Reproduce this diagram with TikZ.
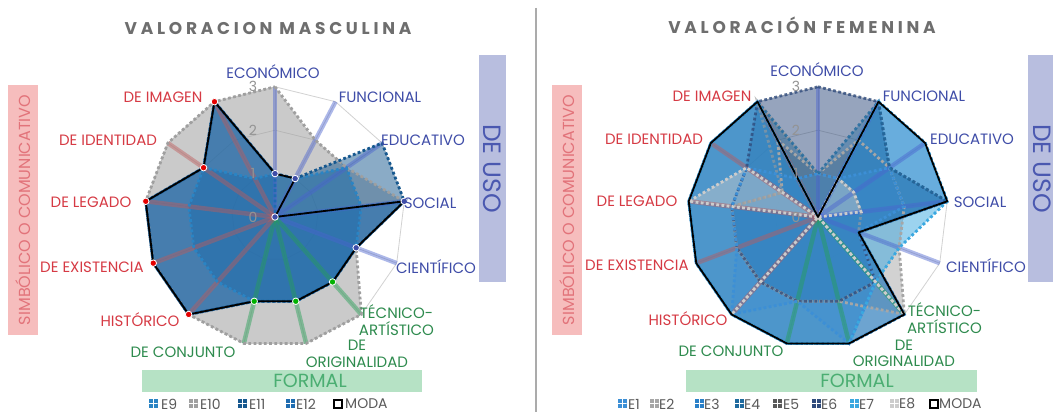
\documentclass[tikz,border=0pt]{standalone}
\usepackage{fontspec}
\setmainfont{Poppins}
\newfontfamily\ttlfont[LetterSpace=22]{Poppins}
\usepackage{tikz}
\usetikzlibrary{calc}

\definecolor{usoblue}{HTML}{3F4DA8}
\definecolor{frmgreen}{HTML}{2E8B4E}
\definecolor{smbred}{HTML}{D63A44}
\definecolor{pinkbox}{HTML}{F6BDBD}
\definecolor{pinktxt}{HTML}{E2737A}
\definecolor{lavbox}{HTML}{B8BEDF}
\definecolor{lavtxt}{HTML}{4A58B0}
\definecolor{grnbox}{HTML}{B6E2C5}
\definecolor{grntxt}{HTML}{4BAE72}
\definecolor{ttlgray}{HTML}{6E6E6E}
\definecolor{leggray}{HTML}{5A5A5A}
\definecolor{divgray}{HTML}{ABABAB}
\definecolor{barblue}{HTML}{4A63D0}
\definecolor{bargreen}{HTML}{25A055}
\definecolor{barred}{HTML}{BF5A5A}
% series colours
\definecolor{cE1}{HTML}{3C8FD6}
\definecolor{cE2}{HTML}{A6A6A6}
\definecolor{cE3}{HTML}{2A80C8}
\definecolor{cE4}{HTML}{1F6A9E}
\definecolor{cE5}{HTML}{595959}
\definecolor{cE6}{HTML}{2F4B7C}
\definecolor{cE7}{HTML}{3AA8E0}
\definecolor{cE8}{HTML}{CCCCCC}
\definecolor{cE9}{HTML}{2A84C4}
\definecolor{cE10}{HTML}{A0A0A0}
\definecolor{cE11}{HTML}{16588F}
\definecolor{cE12}{HTML}{1F6CB0}

% 13 spokes, value 3 = 130pt
\newcommand{\radarpts}[3]{%
  \foreach \v [count=\i] in {#3}
    {\coordinate (#1-\i) at ($(#2)+({90-(\i-1)*360/13}:{\v*43.4})$);}}
\newcommand{\radarshape}[2]{%
  \path[#2] (#1-1) \foreach \i in {2,...,13} {-- (#1-\i)} -- cycle;}

\begin{document}
\begin{tikzpicture}[x=1pt,y=1pt]
\tikzstyle{lbl}=[font=\fontsize{15}{16.5}\selectfont, inner sep=0pt, align=center]
\tikzstyle{uso}=[lbl, text=usoblue]
\tikzstyle{frm}=[lbl, text=frmgreen]
\tikzstyle{smb}=[lbl, text=smbred]
\tikzstyle{ttl}=[font=\ttlfont\bfseries\fontsize{17}{17}\selectfont, text=ttlgray, inner sep=0pt]
\tikzstyle{catbox}=[inner sep=0pt]
\tikzstyle{gridline}=[draw=gray!35, line width=0.8pt]
\tikzstyle{dots}=[line width=2.8pt, dash pattern=on 2.8pt off 2.4pt]
\tikzstyle{axbar}=[line width=4.5pt, opacity=0.45]
\tikzstyle{moda}=[draw=black, line width=1.8pt, line join=round]
\tikzstyle{mk}=[circle, inner sep=0pt, minimum size=6.5pt, draw=white, line width=0.8pt]
\tikzstyle{val}=[font=\fontsize{14}{14}\selectfont, text=gray!85, inner sep=0pt]
\tikzstyle{leg}=[font=\fontsize{14}{14}\selectfont, text=leggray, anchor=west, inner sep=0pt]
\tikzstyle{legicon}=[minimum size=9pt, inner sep=0pt,
  path picture={\draw[white, line width=1pt] (path picture bounding box.north) -- (path picture bounding box.south)
    (path picture bounding box.west) -- (path picture bounding box.east);}]

\fill[white] (0,0) rectangle (1053,412);
\useasboundingbox (0,0) rectangle (1053,412);

\coordinate (cL) at (275,195);
\coordinate (cR) at (818,195);

% titles and divider
\node[ttl] (ttlL) at (268,383) {VALORACION\hspace{7pt}MASCULINA};
\node[ttl] (ttlR) at (802,387) {VALORACIÓN\hspace{7pt}FEMENINA};
\coordinate (divtop) at (536,404);
\coordinate (divbot) at (536,0);
\draw[divgray, line width=2pt] (divtop) -- (divbot);

% category boxes
\node[catbox, fill=pinkbox, text=pinktxt, rotate=90, minimum width=250pt, minimum height=30pt,
  font=\fontsize{16}{16}\selectfont] (simbL) at (23,202) {SIMBÓLICO O COMUNICATIVO};
\node[catbox, fill=pinkbox, text=pinktxt, rotate=90, minimum width=250pt, minimum height=30pt,
  font=\fontsize{16}{16}\selectfont] (simbR) at (567,202) {SIMBÓLICO O COMUNICATIVO};
\node[catbox, fill=lavbox, text=lavtxt, rotate=-90, minimum width=227pt, minimum height=27pt,
  font=\fontsize{25}{25}\selectfont] (usoL) at (492.5,243.5) {DE USO};
\node[catbox, fill=lavbox, text=lavtxt, rotate=-90, minimum width=227pt, minimum height=28pt,
  font=\fontsize{25}{25}\selectfont] (usoR) at (1042,243.5) {DE USO};
\node[catbox, fill=grnbox, minimum width=280pt, minimum height=22pt] (frmL) at (282,31) {};
\node[catbox, text=grntxt, font=\fontsize{19}{19}\selectfont] (frmLtxt) at ($(frmL)+(28,0)$) {FORMAL};
\node[catbox, fill=grnbox, minimum width=291pt, minimum height=22pt] (frmR) at (831.5,31) {};
\node[catbox, text=grntxt, font=\fontsize{19}{19}\selectfont] (frmRtxt) at ($(frmR)+(25.5,0)$) {FORMAL};

% grid
\foreach \c in {L,R} {
  \foreach \k in {1,2,3} {\radarpts{g\k\c}{c\c}{\k,\k,\k,\k,\k,\k,\k,\k,\k,\k,\k,\k,\k}}
  \foreach \k in {1,2,3} {\radarshape{g\k\c}{gridline}}
  \foreach \i in {1,...,13} {\draw[gridline] (c\c) -- (g3\c-\i);}
}

% masculine series
\radarpts{e10}{cL}{3,2,2,3,2,3,3,3,3,3,3,3,3}
\radarpts{e9}{cL}{1,1,2,2,2,2,2,2,2,2,2,2,1}
\radarpts{e11}{cL}{1,1,3,3,2,2,2,2,3,3,3,2,3}
\radarpts{e12}{cL}{1,0,0,3,2,2,2,2,3,3,3,2,3}
\radarpts{modaL}{cL}{1,1,0,3,2,2,2,2,3,3,3,2,3}

\radarshape{e10}{fill=cE10, fill opacity=.55}
\radarshape{e9}{fill=cE9, fill opacity=.55}
\radarshape{e11}{fill=cE11, fill opacity=.5}
\radarshape{e12}{fill=cE12, fill opacity=.5}

% feminine series
\radarpts{e1}{cR}{1,1,2,2,1,2,3,2,3,2,2,2,1}
\radarpts{e2}{cR}{1,2,2,2,2,3,2,2,2,2,2,1,2}
\radarpts{e3}{cR}{0,3,3,3,1,3,3,3,3,3,3,3,3}
\radarpts{e4}{cR}{1,3,2,3,1,3,3,3,3,3,3,3,3}
\radarpts{e5}{cR}{1,1,1,1,1,2,2,2,2,2,2,1,3}
\radarpts{e6}{cR}{3,3,2,3,1,2,2,2,2,2,2,2,3}
\radarpts{e7}{cR}{0,3,3,3,2,2,3,3,3,3,3,3,3}
\radarpts{e8}{cR}{0,1,1,1,0,3,0,0,3,0,3,2,0}
\radarpts{modaR}{cR}{0,3,3,3,1,3,3,3,3,3,3,3,3}

\radarshape{e2}{fill=cE2, fill opacity=.5}
\radarshape{e6}{fill=cE6, fill opacity=.5}
\radarshape{e5}{fill=cE5, fill opacity=.15}
\radarshape{e7}{fill=cE7, fill opacity=.5}
\radarshape{e4}{fill=cE4, fill opacity=.4}
\radarshape{e3}{fill=cE3, fill opacity=.45}
\radarshape{e1}{fill=cE1, fill opacity=.3}
\radarshape{e8}{fill=cE8, fill opacity=.45}

% spoke bars
\foreach \c in {L,R} {
  \foreach \i in {1,...,5} {\draw[axbar, barblue] (c\c) -- (g3\c-\i);}
  \foreach \i in {6,7,8} {\draw[axbar, bargreen] (c\c) -- (g3\c-\i);}
  \foreach \i in {9,...,13} {\draw[axbar, barred] (c\c) -- (g3\c-\i);}
}

% dotted outlines
\radarshape{e10}{draw=gray!75, dots}
\radarshape{e9}{draw=cE9, dots}
\radarshape{e12}{draw=cE12, dots}
\radarshape{e11}{draw=cE11, dots}
\radarshape{e2}{draw=cE2, dots}
\radarshape{e5}{draw=cE5!60, dots, draw opacity=.6}
\radarshape{e6}{draw=cE6, dots, draw opacity=.8}
\radarshape{e1}{draw=cE1, dots}
\radarshape{e4}{draw=cE4, dots, draw opacity=.8}
\radarshape{e3}{draw=cE3, dots}
\radarshape{e7}{draw=cE7, dots}
\radarshape{e8}{draw=cE8, dots}

% moda
\radarshape{modaL}{moda}
\radarshape{modaR}{moda}
\foreach \i in {1,...,5} {\node[mk, fill=usoblue] (mkL\i) at (modaL-\i) {};}
\foreach \i in {6,7,8} {\node[mk, fill=green!70!black] (mkL\i) at (modaL-\i) {};}
\foreach \i in {9,...,13} {\node[mk, fill=red!90!black] (mkL\i) at (modaL-\i) {};}

% scale values
\foreach \c in {L,R} {
  \foreach \k in {0,...,3} {\node[val] (v\c\k) at ($(c\c)+(-22,\k*43.4)$) {\k};}
}

% axis labels, masculine
\node[uso] (ecoL) at ($(cL)+(-2,145)$) {ECONÓMICO};
\node[uso] (funL) at ($(cL)+(105,120)$) {FUNCIONAL};
\node[uso] (eduL) at ($(cL)+(148,77)$) {EDUCATIVO};
\node[uso] (socL) at ($(cL)+(155,14)$) {SOCIAL};
\node[uso] (cieL) at ($(cL)+(161,-50)$) {CIENTÍFICO};
\node[frm] (tecL) at ($(cL)+(121.5,-103)$) {TÉCNICO-\\ARTÍSTICO};
\node[frm] (oriL) at ($(cL)+(82,-137)$) {DE\\ORIGINALIDAD};
\node[frm] (conL) at ($(cL)+(-92,-135)$) {DE CONJUNTO};
\node[smb] (hisL) at ($(cL)+(-135,-103)$) {HISTÓRICO};
\node[smb] (exiL) at ($(cL)+(-183,-50)$) {DE EXISTENCIA};
\node[smb] (legL) at ($(cL)+(-184,15)$) {DE LEGADO};
\node[smb] (ideL) at ($(cL)+(-167,77)$) {DE IDENTIDAD};
\node[smb] (imaL) at ($(cL)+(-112,120)$) {DE IMAGEN};

% axis labels, feminine
\node[uso] (ecoR) at ($(cR)+(-1,147)$) {ECONÓMICO};
\node[uso] (funR) at ($(cR)+(106,121)$) {FUNCIONAL};
\node[uso] (eduR) at ($(cR)+(154,78)$) {EDUCATIVO};
\node[uso] (socR) at ($(cR)+(162,15)$) {SOCIAL};
\node[uso] (cieR) at ($(cR)+(168,-49)$) {CIENTÍFICO};
\node[frm] (tecR) at ($(cR)+(126.5,-101)$) {TÉCNICO-\\ARTÍSTICO};
\node[frm] (oriR) at ($(cR)+(86,-136.5)$) {DE\\ORIGINALIDAD};
\node[frm] (conR) at ($(cR)+(-87,-134)$) {DE CONJUNTO};
\node[smb] (hisR) at ($(cR)+(-130,-102)$) {HISTÓRICO};
\node[smb] (exiR) at ($(cR)+(-181,-48)$) {DE EXISTENCIA};
\node[smb] (legR) at ($(cR)+(-181,16)$) {DE LEGADO};
\node[smb] (ideR) at ($(cR)+(-164,78)$) {DE IDENTIDAD};
\node[smb] (imaR) at ($(cR)+(-106,121)$) {DE IMAGEN};

% legends
\foreach \n/\x/\t in {9/153/161, 10/193/200, 11/242/249, 12/290/296} {
  \node[legicon, fill=cE\n] (icE\n) at (\x,8) {};
  \node[leg] (lgE\n) at (\t,8) {E\n};
}
\node[draw=black, line width=1.6pt, minimum size=8pt, inner sep=0pt] (icmodaL) at (338,8) {};
\node[leg] (lgmodaL) at (345,8) {MODA};
\foreach \n/\x/\t in {1/622/628, 2/654/659, 3/699/704, 4/739/744, 5/777/783, 6/816/821, 7/854/859, 8/894/899} {
  \node[legicon, fill=cE\n] (icE\n) at (\x,8) {};
  \node[leg] (lgE\n) at (\t,8) {E\n};
}
\node[draw=black, line width=1.6pt, minimum size=8pt, inner sep=0pt] (icmodaR) at (934,8) {};
\node[leg] (lgmodaR) at (939,8) {MODA};
\end{tikzpicture}
\end{document}
